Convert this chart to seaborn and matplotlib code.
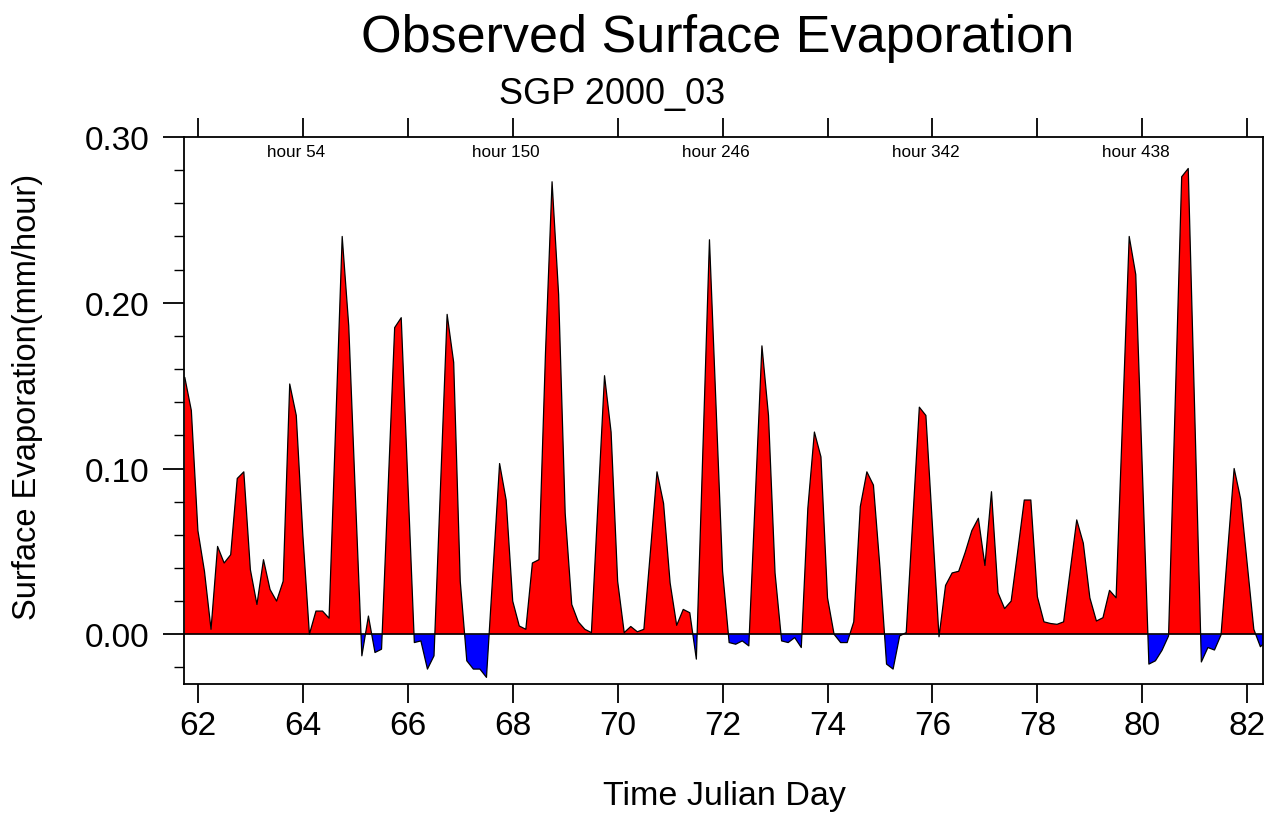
import numpy as np
import pandas as pd
import matplotlib
matplotlib.use("Agg")
import matplotlib.pyplot as plt
import seaborn as sns
from matplotlib.ticker import MultipleLocator, FixedLocator

# ---- data (3-hourly, starting at Julian day 61.75) ----
start_day = 61.75
step_day = 0.125
evap = [
    0.155, 0.135, 0.0625, 0.038, 0.003, 0.053, 0.043, 0.048,          # 61.75 ..
    0.094, 0.098, 0.039, 0.018, 0.045, 0.027, 0.020, 0.032,           # 62.75 ..
    0.151, 0.132, 0.060, 0.000, 0.014, 0.014, 0.0097, 0.125,          # 63.75 ..
    0.240, 0.186, 0.085, -0.013, 0.011, -0.011, -0.009, 0.088,        # 64.75 ..
    0.185, 0.191, 0.093, -0.005, -0.004, -0.021, -0.013, 0.090,       # 65.75 ..
    0.193, 0.164, 0.032, -0.016, -0.021, -0.021, -0.026, 0.038,       # 66.75 ..
    0.103, 0.081, 0.020, 0.005, 0.003, 0.043, 0.045, 0.170,           # 67.75 ..
    0.273, 0.205, 0.073, 0.018, 0.0075, 0.003, 0.001, 0.078,          # 68.75 ..
    0.156, 0.122, 0.032, 0.001, 0.0047, 0.0015, 0.003, 0.050,         # 69.75 ..
    0.098, 0.079, 0.031, 0.0054, 0.015, 0.013, -0.015, 0.112,         # 70.75 ..
    0.238, 0.138, 0.038, -0.005, -0.006, -0.004, -0.007, 0.083,       # 71.75 ..
    0.174, 0.132, 0.037, -0.004, -0.005, -0.002, -0.008, 0.076,       # 72.75 ..
    0.122, 0.107, 0.022, 0.000, -0.005, -0.005, 0.0075, 0.077,        # 73.75 ..
    0.098, 0.090, 0.040, -0.018, -0.021, -0.001, 0.001, 0.069,        # 74.75 ..
    0.137, 0.132, 0.065, -0.0015, 0.0295, 0.037, 0.038, 0.0495,       # 75.75 ..
    0.0625, 0.070, 0.0415, 0.086, 0.025, 0.0155, 0.020, 0.050,        # 76.75 ..
    0.081, 0.081, 0.0226, 0.0075, 0.0065, 0.006, 0.0075, 0.038,       # 77.75 ..
    0.069, 0.055, 0.022, 0.008, 0.010, 0.0265, 0.022, 0.131,          # 78.75 ..
    0.240, 0.217, 0.099, -0.018, -0.016, -0.0097, -0.001, 0.137,      # 79.75 ..
    0.276, 0.281, 0.132, -0.0167, -0.008, -0.0095, -0.0004, 0.050,    # 80.75 ..
    0.100, 0.0815, 0.042, 0.003, -0.0075, -0.004,                     # 81.75 ..
]
day = start_day + step_day * np.arange(len(evap))

x_ticks = [62, 64, 66, 68, 70, 72, 74, 76, 78, 80, 82]
y_ticks = [0.0, 0.1, 0.2, 0.3]
y_tick_labels = ["0.00", "0.10", "0.20", "0.30"]
hour_labels = ["hour 54", "hour 150", "hour 246", "hour 342", "hour 438"]
hour_label_days = [63.875, 67.875, 71.875, 75.875, 79.875]

df = pd.DataFrame({"day": day, "evap": evap})

# ---- figure ----
sns.set_theme(style="ticks")
plt.rcParams["font.family"] = ["Liberation Sans", "DejaVu Sans"]
plt.rcParams["text.color"] = "black"
plt.rcParams["axes.labelcolor"] = "black"
plt.rcParams["xtick.color"] = "black"
plt.rcParams["ytick.color"] = "black"

fig = plt.figure(figsize=(12.85, 8.2), dpi=100)
ax = fig.add_axes([184 / 1285, 1 - 685 / 820, (1263 - 184) / 1285, (685 - 138) / 820])

y = df["evap"].to_numpy()
ax.fill_between(df["day"], y, 0, where=y >= 0, interpolate=True,
                color="#ff0000", linewidth=0)
ax.fill_between(df["day"], y, 0, where=y <= 0, interpolate=True,
                color="#0000ff", linewidth=0)
sns.lineplot(data=df, x="day", y="evap", color="black", linewidth=0.9,
             estimator=None, sort=False, ax=ax)
ax.axhline(0, color="black", linewidth=1.2)

ax.set_xlim(61.735, 82.3)
ax.set_ylim(-0.03, 0.30)

ax.xaxis.set_major_locator(FixedLocator(x_ticks))
ax.set_xticklabels([str(v) for v in x_ticks])
ax.yaxis.set_major_locator(FixedLocator(y_ticks))
ax.set_yticklabels(y_tick_labels)
ax.yaxis.set_minor_locator(MultipleLocator(0.02))

ax.tick_params(axis="x", which="major", direction="out", length=14, width=1.3,
               labelsize=24, pad=5, top=True, bottom=True, labeltop=False,
               colors="black")
ax.tick_params(axis="y", which="major", direction="out", length=15, width=1.3,
               labelsize=24, pad=10, left=True, right=False, colors="black")
ax.tick_params(axis="y", which="minor", direction="out", length=7, width=1.0,
               left=True, right=False, colors="black")

for s in ax.spines.values():
    s.set_linewidth(1.3)
    s.set_color("black")

ax.set_xlabel("")
ax.set_ylabel("")

for lab, d in zip(hour_labels, hour_label_days):
    ax.text(d, 0.2915, lab, ha="center", va="center", fontsize=12.3,
            color="black")

fig.text(718 / 1285, 1 - 52 / 820, "Observed Surface Evaporation",
         ha="center", va="baseline", fontsize=37.5, color="black")
fig.text(612 / 1285, 1 - 104 / 820, "SGP 2000_03",
         ha="center", va="baseline", fontsize=26, color="black")
fig.text(724 / 1285, 1 - 797 / 820, "Time Julian Day",
         ha="center", va="center", fontsize=24.5, color="black")
fig.text(28 / 1285, 1 - 397 / 820, "Surface Evaporation(mm/hour)",
         ha="center", va="center", rotation=90, fontsize=23.5, color="black")

fig.savefig("out.png", dpi=100)
